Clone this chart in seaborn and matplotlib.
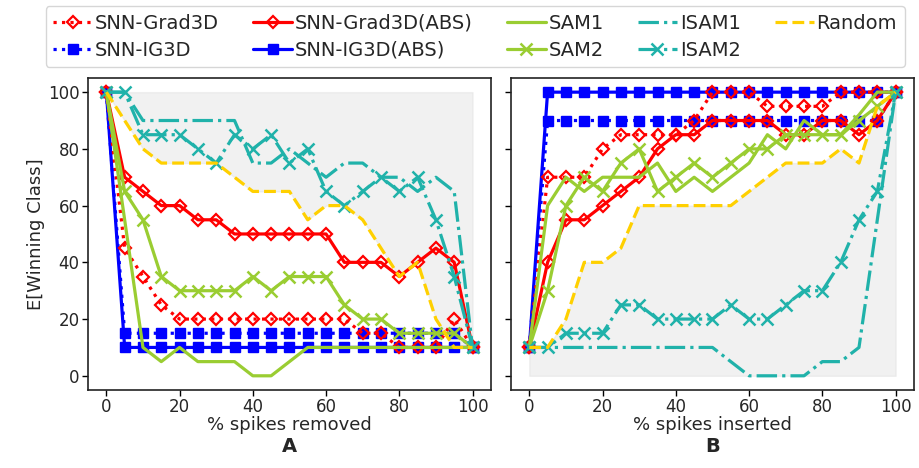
import matplotlib
matplotlib.use("Agg")
import matplotlib.pyplot as plt
import seaborn as sns

pct = [0, 5, 10, 15, 20, 25, 30, 35, 40, 45, 50, 55, 60, 65, 70, 75, 80, 85, 90, 95, 100]

# ---- Panel A: % spikes removed ----
rem_grad = [100, 45, 35, 25, 20, 20, 20, 20, 20, 20, 20, 20, 20, 20, 15, 15, 10, 10, 10, 20, 10]
rem_ig = [100, 15, 15, 15, 15, 15, 15, 15, 15, 15, 15, 15, 15, 15, 15, 15, 15, 15, 15, 15, 10]
rem_grad_abs = [100, 70, 65, 60, 60, 55, 55, 50, 50, 50, 50, 50, 50, 40, 40, 40, 35, 40, 45, 40, 10]
rem_ig_abs = [100, 10, 10, 10, 10, 10, 10, 10, 10, 10, 10, 10, 10, 10, 10, 10, 10, 10, 10, 10, 10]
rem_sam1 = [100, 55, 10, 5, 10, 5, 5, 5, 0, 0, 5, 10, 10, 10, 10, 10, 10, 10, 10, 10, 10]
rem_sam2 = [100, 65, 55, 35, 30, 30, 30, 30, 35, 30, 35, 35, 35, 25, 20, 20, 15, 15, 15, 15, 10]
rem_isam1 = [100, 100, 90, 90, 90, 90, 90, 90, 75, 75, 80, 75, 70, 75, 75, 70, 70, 65, 70, 65, 10]
rem_isam2 = [100, 100, 85, 85, 85, 80, 75, 85, 80, 85, 75, 80, 65, 60, 65, 70, 65, 70, 55, 35, 10]
rem_random = [100, 90, 80, 75, 75, 75, 75, 70, 65, 65, 65, 55, 60, 60, 55, 45, 35, 40, 20, 10, 10]

# ---- Panel B: % spikes inserted ----
ins_grad = [10, 70, 70, 70, 80, 85, 85, 85, 85, 90, 100, 100, 100, 95, 95, 95, 95, 100, 100, 100, 100]
ins_ig = [10, 90, 90, 90, 90, 90, 90, 90, 90, 90, 90, 90, 90, 90, 90, 90, 90, 90, 90, 90, 100]
ins_grad_abs = [10, 40, 55, 55, 60, 65, 70, 80, 85, 85, 90, 90, 90, 90, 85, 85, 90, 90, 85, 90, 100]
ins_ig_abs = [10, 100, 100, 100, 100, 100, 100, 100, 100, 100, 100, 100, 100, 100, 100, 100, 100, 100, 100, 100, 100]
ins_sam1 = [10, 60, 70, 65, 70, 70, 70, 75, 65, 70, 65, 70, 75, 85, 80, 90, 85, 85, 92, 100, 100]
ins_sam2 = [10, 30, 60, 70, 65, 75, 80, 65, 70, 75, 70, 75, 80, 80, 85, 85, 85, 85, 90, 95, 100]
ins_isam1 = [10, 10, 10, 10, 10, 10, 10, 10, 10, 10, 10, 5, 0, 0, 0, 0, 5, 5, 10, 55, 100]
ins_isam2 = [10, 10, 15, 15, 15, 25, 25, 20, 20, 20, 20, 25, 20, 20, 25, 30, 30, 40, 55, 65, 100]
ins_random = [10, 10, 20, 40, 40, 45, 60, 60, 60, 60, 60, 60, 65, 70, 75, 75, 75, 80, 75, 95, 100]

labels = ["SNN-Grad3D", "SNN-IG3D", "SNN-Grad3D(ABS)", "SNN-IG3D(ABS)",
          "SAM1", "SAM2", "ISAM1", "ISAM2", "Random"]

RED, BLUE, GREEN, TEAL, GOLD = "#ff0000", "#0000ff", "#9acd32", "#20b2aa", "#ffd000"
styles = {
    "SNN-Grad3D": dict(color=RED, linestyle=":", marker="D", markersize=6.5,
                       markerfacecolor="none", markeredgecolor=RED, markeredgewidth=1.6, zorder=3.2),
    "SNN-IG3D": dict(color=BLUE, linestyle=":", marker="s", markersize=7,
                     markerfacecolor=BLUE, markeredgecolor=BLUE, markeredgewidth=1, zorder=3.0),
    "SNN-Grad3D(ABS)": dict(color=RED, linestyle="-", marker="D", markersize=6.5,
                            markerfacecolor="none", markeredgecolor=RED, markeredgewidth=1.6, zorder=3.3),
    "SNN-IG3D(ABS)": dict(color=BLUE, linestyle="-", marker="s", markersize=7,
                          markerfacecolor=BLUE, markeredgecolor=BLUE, markeredgewidth=1, zorder=3.1),
    "SAM1": dict(color=GREEN, linestyle="-", marker=None, zorder=3.4),
    "SAM2": dict(color=GREEN, linestyle="-", marker="x", markersize=9,
                 markeredgecolor=GREEN, markeredgewidth=1.8, zorder=3.5),
    "ISAM1": dict(color=TEAL, linestyle="-.", marker=None, zorder=3.6),
    "ISAM2": dict(color=TEAL, linestyle="-.", marker="x", markersize=9,
                  markeredgecolor=TEAL, markeredgewidth=1.8, zorder=3.7),
    "Random": dict(color=GOLD, linestyle="--", marker=None, zorder=3.8),
}

sns.set_style("ticks")
plt.rcParams["font.family"] = ["DejaVu Sans"]

fig = plt.figure(figsize=(9.19, 4.68), dpi=100)
ax1 = fig.add_axes([0.0958, 0.1667, 0.4383, 0.6667])
ax2 = fig.add_axes([0.556, 0.1667, 0.4385, 0.6667], sharey=ax1)

panels = [
    (ax1, [rem_grad, rem_ig, rem_grad_abs, rem_ig_abs, rem_sam1, rem_sam2, rem_isam1, rem_isam2, rem_random],
     "% spikes removed", "A", 100),
    (ax2, [ins_grad, ins_ig, ins_grad_abs, ins_ig_abs, ins_sam1, ins_sam2, ins_isam1, ins_isam2, ins_random],
     "% spikes inserted", "B", 0),
]

for ax, series, xlabel, letter, fill_to in panels:
    rnd = series[-1]
    ax.fill_between(pct, rnd, fill_to, color="lightgray", alpha=0.3, zorder=1)
    for lab, vals in zip(labels, series):
        st = dict(styles[lab])
        z = st.pop("zorder")
        sns.lineplot(x=pct, y=vals, ax=ax, linewidth=2.3, label=lab, legend=False, zorder=z, **st)
    ax.set_xlim(-5, 105)
    ax.set_ylim(-5, 105)
    ax.set_xticks([0, 20, 40, 60, 80, 100])
    ax.set_yticks([0, 20, 40, 60, 80, 100])
    ax.tick_params(labelsize=12, length=4, width=1, pad=2, color="black")
    ax.set_xlabel(xlabel, fontsize=13, labelpad=0)
    ax.text(0.5, -0.152, letter, transform=ax.transAxes, ha="center", va="top",
            fontsize=14, fontweight="bold")
    for sp in ax.spines.values():
        sp.set_color("#222222")
        sp.set_linewidth(1.2)

ax1.set_ylabel("E[Winning Class]", fontsize=13, labelpad=2)
ax2.set_ylabel("")
ax2.tick_params(labelleft=False)

handles, labs = ax1.get_legend_handles_labels()
fig.legend(handles, labs, loc="upper center", bbox_to_anchor=(0.517, 1.008), ncol=5,
           fontsize=14, handlelength=2.0, handletextpad=0.15, columnspacing=1.75,
           labelspacing=0.4, frameon=True, edgecolor="#cccccc", fancybox=True)

fig.savefig("out.png", dpi=100)
